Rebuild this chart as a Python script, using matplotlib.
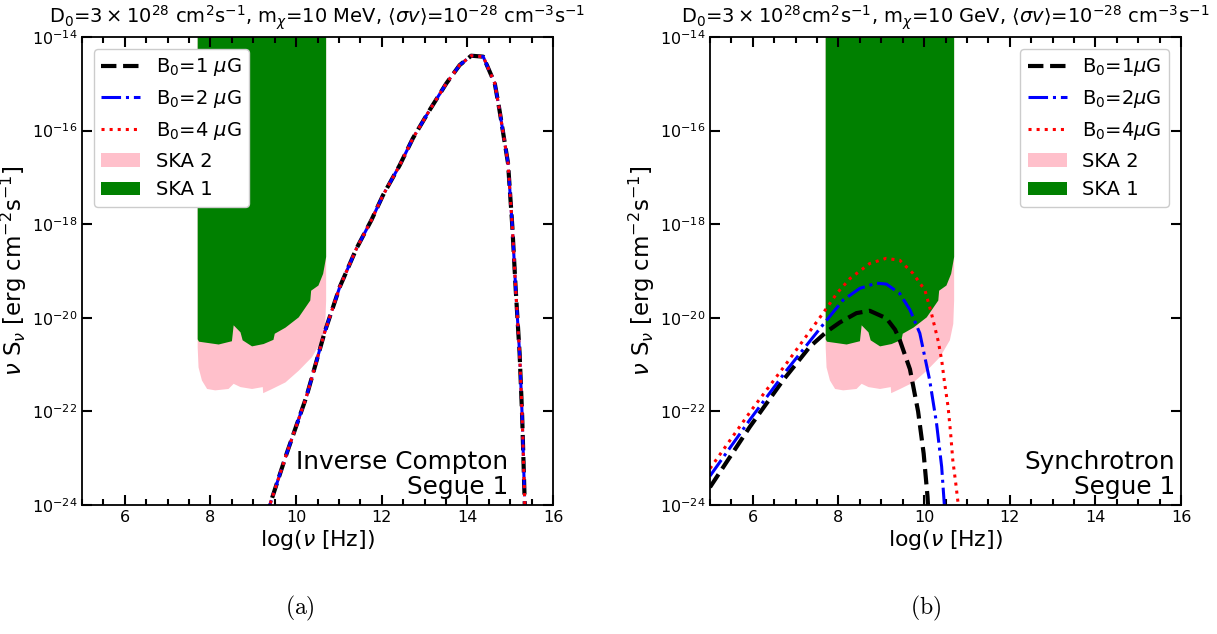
import numpy as np
import matplotlib
matplotlib.use("Agg")
import matplotlib.pyplot as plt
from matplotlib.ticker import MultipleLocator, NullLocator

# ---------------- data ----------------
# SKA sensitivity band lower edges (log10 nu, log10 nuS_nu)
ska1_logx = [7.69, 7.72, 7.95, 8.18, 8.49, 8.53, 8.69, 8.74, 8.96, 9.23, 9.46, 9.49,
             9.74, 10.05, 10.32, 10.34, 10.51, 10.62, 10.69]
ska1_logy = [-20.45, -20.50, -20.53, -20.56, -20.49, -20.15, -20.30, -20.47, -20.60, -20.55,
             -20.46, -20.33, -20.20, -19.98, -19.62, -19.41, -19.30, -19.05, -18.69]
ska2_logx = [7.69, 7.71, 7.79, 7.91, 8.10, 8.41, 8.53, 8.69, 8.96, 9.21, 9.22, 9.43,
             9.74, 10.05, 10.36, 10.59, 10.67, 10.69]
ska2_logy = [-20.62, -21.05, -21.33, -21.51, -21.54, -21.51, -21.40, -21.47, -21.51, -21.47,
             -21.60, -21.51, -21.37, -21.12, -20.83, -20.47, -20.12, -19.62]

# Inverse Compton (identical for all B0)
ic_logx = [9.30, 9.40, 9.78, 10.24, 10.67, 11.02, 11.41, 11.76, 12.03, 12.42, 12.73, 13.12,
           13.51, 13.82, 14.09, 14.37, 14.64, 14.75, 14.95, 15.05, 15.13, 15.22, 15.28,
           15.34, 15.37]
ic_logy = [-24.3, -23.96, -22.90, -21.69, -20.30, -19.34, -18.52, -17.91, -17.38, -16.74,
           -16.16, -15.56, -14.99, -14.60, -14.40, -14.42, -14.99, -15.56, -16.70, -18.05,
           -19.41, -20.76, -22.11, -23.96, -25.0]

# Synchrotron
sy1_logx = [5.0, 5.93, 6.71, 7.33, 7.72, 8.03, 8.42, 8.73, 9.12, 9.32, 9.43, 9.67, 9.86,
            9.99, 10.08, 10.12]
sy1_logy = [-23.62, -22.33, -21.33, -20.62, -20.30, -20.10, -19.90, -19.85, -20.01, -20.25,
            -20.47, -21.10, -22.00, -22.90, -23.82, -24.5]
sy2_logx = [5.0, 5.93, 6.79, 7.76, 8.11, 8.50, 8.89, 9.12, 9.43, 9.67, 9.90, 10.13, 10.29,
            10.41, 10.47, 10.50]
sy2_logy = [-23.38, -22.18, -21.12, -20.01, -19.62, -19.37, -19.26, -19.28, -19.48, -19.83,
            -20.33, -21.33, -22.25, -23.18, -23.96, -24.5]
sy4_logx = [5.0, 5.97, 6.79, 7.72, 7.96, 8.27, 8.73, 9.11, 9.43, 9.74, 10.02, 10.17, 10.33,
            10.41, 10.48, 10.56, 10.62, 10.67, 10.74, 10.79, 10.82]
sy4_logy = [-23.22, -21.97, -20.97, -19.80, -19.48, -19.16, -18.84, -18.73, -18.77, -19.05,
            -19.41, -19.90, -20.50, -20.90, -21.40, -21.90, -22.47, -23.04, -23.54, -23.93,
            -24.5]

titles = [r"D$_0$=$3\times10^{28}$ cm$^2$s$^{-1}$, m$_\chi$=10 MeV, $\langle\sigma v\rangle$=10$^{-28}$ cm$^{-3}$s$^{-1}$",
          r"D$_0$=$3\times10^{28}$cm$^2$s$^{-1}$, m$_\chi$=10 GeV, $\langle\sigma v\rangle$=10$^{-28}$ cm$^{-3}$s$^{-1}$"]
labels_a = [r"B$_0$=1 $\mu$G", r"B$_0$=2 $\mu$G", r"B$_0$=4 $\mu$G"]
labels_b = [r"B$_0$=1$\mu$G", r"B$_0$=2$\mu$G", r"B$_0$=4$\mu$G"]
panel_text = ["Inverse Compton\nSegue 1", "Synchrotron\nSegue 1"]
captions = ["(a)", "(b)"]

# ---------------- figure ----------------
fig = plt.figure(figsize=(12.17, 6.34), dpi=100)
W, H = 1217, 634
axL = fig.add_axes([82 / W, 1 - 505 / H, 471 / W, 468 / H])
axR = fig.add_axes([710 / W, 1 - 505 / H, 471 / W, 468 / H])

styles = [dict(color="black", ls="--", lw=3.0),
          dict(color="blue", ls="-.", lw=2.2),
          dict(color="red", ls=":", lw=2.2)]


def draw(ax, curves, labels, title, text, tx, loc):
    ax.fill_between(ska2_logx, 10 ** np.array(ska2_logy), 1e-12, color="pink", lw=0, label="SKA 2")
    ax.fill_between(ska1_logx, 10 ** np.array(ska1_logy), 1e-12, color="green", lw=0, label="SKA 1")
    for (cx, cy), lab, st in zip(curves, labels, styles):
        ax.plot(cx, 10 ** np.array(cy), label=lab, **st)
    ax.set_yscale("log")
    ax.set_xlim(5, 16)
    ax.set_ylim(1e-24, 1e-14)
    ax.set_yticks([1e-24, 1e-22, 1e-20, 1e-18, 1e-16, 1e-14])
    ax.yaxis.set_minor_locator(NullLocator())
    ax.xaxis.set_major_locator(MultipleLocator(2))
    ax.xaxis.set_minor_locator(MultipleLocator(0.5))
    ax.tick_params(which="both", direction="in", top=True, right=True, width=1.5, labelsize=11.5)
    ax.tick_params(which="major", length=7)
    ax.tick_params(which="minor", length=4)
    for s in ax.spines.values():
        s.set_linewidth(1.3)
    ax.set_title(title, fontsize=14, pad=10)
    ax.set_xlabel(r"log($\nu$ [Hz])", fontsize=15.8, labelpad=2)
    ax.set_ylabel(r"$\nu$ S$_\nu$ [erg cm$^{-2}$s$^{-1}$]", fontsize=16.5, labelpad=2)
    ax.text(tx, 0.012, text, transform=ax.transAxes, ha="right", va="bottom",
            multialignment="right", fontsize=17.8, linespacing=1.05)
    h2, l2 = ax.get_legend_handles_labels()
    order = [2, 3, 4, 0, 1]
    ax.legend([h2[i] for i in order], [l2[i] for i in order], loc=loc, fontsize=14,
              framealpha=1, borderaxespad=0.6)


draw(axL, [(ic_logx, ic_logy)] * 3, labels_a, titles[0], panel_text[0], 0.905, "upper left")
draw(axR, [(sy1_logx, sy1_logy), (sy2_logx, sy2_logy), (sy4_logx, sy4_logy)], labels_b,
     titles[1], panel_text[1], 0.988, "upper right")

fig.text(300 / W, 1 - 608 / H, r"$\mathrm{" + captions[0] + "}$", ha="center", va="center", fontsize=17,
         math_fontfamily="cm")
fig.text(926 / W, 1 - 608 / H, r"$\mathrm{" + captions[1] + "}$", ha="center", va="center", fontsize=17,
         math_fontfamily="cm")

fig.savefig("out.png", dpi=100)
